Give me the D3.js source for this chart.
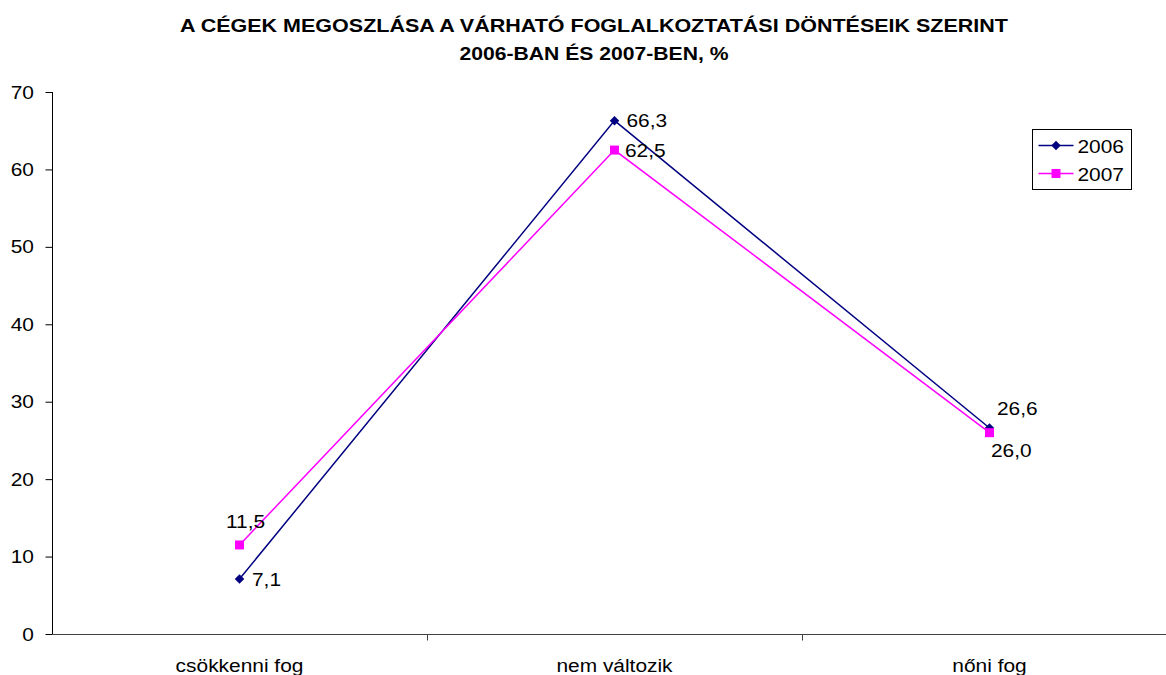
<!DOCTYPE html>
<html>
<head>
<meta charset="utf-8">
<script src="https://cdn.jsdelivr.net/npm/d3@7"></script>
<style>
body { margin: 0; background: #fff; }
text { font-family: "Liberation Sans", Arial, sans-serif; fill: #000; }
</style>
</head>
<body>
<script>
var width = 1166, height = 675;

var categories = ["csökkenni fog", "nem változik", "nőni fog"];
var years = ["2006", "2007"];
var values2006 = [7.1, 66.3, 26.6];
var values2007 = [11.5, 62.5, 26.0];
var yTicks = [0, 10, 20, 30, 40, 50, 60, 70];
var titleLines = ["A CÉGEK MEGOSZLÁSA A VÁRHATÓ FOGLALKOZTATÁSI DÖNTÉSEIK SZERINT", "2006-BAN ÉS 2007-BEN, %"];

var colors = { "2006": "#000080", "2007": "#ff00ff" };

var plotLeft = 52, plotTop = 92, plotBottom = 634, bandW = 375;
// the original picture is a bit stretched sideways
var stretch = " scale(1.1,1)";
var fontSize = "19px";

var x = d3.scaleBand()
    .domain(categories)
    .range([plotLeft, plotLeft + bandW * 3])
    .padding(0);

var y = d3.scaleLinear()
    .domain([0, 70])
    .range([plotBottom, plotTop]);

function cx(i){ return x(categories[i]) + x.bandwidth() / 2; }

var svg = d3.select("body").append("svg")
    .attr("width", width)
    .attr("height", height)
    .style("display", "block");

// title
var titleWidths = [828, 269];
svg.append("g").selectAll("text")
    .data(titleLines)
    .enter()
    .append("text")
    .attr("x", 594)
    .attr("y", function(d, i){ return 32 + i * 28; })
    .attr("text-anchor", "middle")
    .attr("textLength", function(d, i){ return titleWidths[i]; })
    .attr("lengthAdjust", "spacingAndGlyphs")
    .style("font-weight", "bold")
    .style("font-size", "18.5px")
    .text(function(d){ return d; });

// y axis
var yAxis = svg.append("g")
    .attr("transform", "translate(" + (plotLeft + 0.5) + ",0)")
    .call(d3.axisLeft(y).tickValues(yTicks).tickSize(7).tickFormat(d3.format("d")));
yAxis.select(".domain").attr("stroke", "#000").attr("d", "M0," + plotTop + "V" + plotBottom);
yAxis.selectAll(".tick line").attr("stroke", "#000");
yAxis.selectAll("text")
    .attr("x", 0)
    .attr("transform", "translate(-18.5,0)" + stretch)
    .attr("font-family", null)
    .attr("font-size", null)
    .style("font-size", fontSize);

// x axis
var xAxis = svg.append("g")
    .attr("transform", "translate(0," + (plotBottom + 0.5) + ")");
xAxis.append("line")
    .attr("x1", plotLeft).attr("x2", width)
    .attr("stroke", "#404040");
xAxis.selectAll(".sep")
    .data(d3.range(1, 3))
    .enter()
    .append("line")
    .attr("x1", function(d){ return Math.round(plotLeft + bandW * d) + 0.5; })
    .attr("x2", function(d){ return Math.round(plotLeft + bandW * d) + 0.5; })
    .attr("y1", 0).attr("y2", 6)
    .attr("stroke", "#404040");
xAxis.selectAll(".cat")
    .data(categories)
    .enter()
    .append("text")
    .attr("transform", function(d, i){ return "translate(" + cx(i) + ",37)" + stretch; })
    .attr("text-anchor", "middle")
    .style("font-size", fontSize)
    .text(function(d){ return d; });

var series = [
    { name: "2006", values: values2006 },
    { name: "2007", values: values2007 }
];

var line = d3.line()
    .x(function(d, i){ return cx(i); })
    .y(function(d){ return y(d); });

var diamond = d3.symbol().type(d3.symbolSquare).size(45);
var square = d3.symbol().type(d3.symbolSquare).size(81);
function markerTransform(name){ return name == "2006" ? " rotate(45)" : ""; }

series.forEach(function(s){
    var g = svg.append("g");
    g.append("path")
        .attr("d", line(s.values))
        .attr("fill", "none")
        .attr("stroke", colors[s.name])
        .attr("stroke-width", 1.5);
    g.selectAll("path.m")
        .data(s.values)
        .enter()
        .append("path")
        .attr("class", "m")
        .attr("transform", function(d, i){
            return "translate(" + cx(i) + "," + y(d) + ")" + markerTransform(s.name);
        })
        .attr("d", s.name == "2006" ? diamond() : square())
        .attr("fill", colors[s.name]);
});

// data labels: offsets of the text start from each point
var labelOffsets = {
    "2006": [[12.5, 7], [12, 6], [7.5, -13]],
    "2007": [[-13.5, -17], [10.5, 7], [1.5, 24]]
};
series.forEach(function(s){
    svg.append("g").selectAll("text")
        .data(s.values)
        .enter()
        .append("text")
        .attr("transform", function(d, i){
            var o = labelOffsets[s.name][i];
            return "translate(" + (cx(i) + o[0]) + "," + (y(d) + o[1]) + ")" + stretch;
        })
        .style("font-size", fontSize)
        .text(function(d){ return d.toFixed(1).replace(".", ","); });
});

// legend
var legend = svg.append("g").attr("transform", "translate(1032.5,129.5)");
legend.append("rect")
    .attr("width", 99).attr("height", 60)
    .attr("fill", "#fff").attr("stroke", "#000");
var items = legend.selectAll("g.item")
    .data(years)
    .enter()
    .append("g")
    .attr("class", "item")
    .attr("transform", function(d, i){ return "translate(0," + (16 + i * 28) + ")"; });
items.append("line")
    .attr("x1", 6).attr("x2", 41)
    .attr("stroke", function(d){ return colors[d]; })
    .attr("stroke-width", 1.5);
items.append("path")
    .attr("transform", function(d){ return "translate(23.5,0)" + markerTransform(d); })
    .attr("d", function(d){ return d == "2006" ? diamond() : square(); })
    .attr("fill", function(d){ return colors[d]; });
items.append("text")
    .attr("transform", "translate(45,7)" + stretch)
    .style("font-size", fontSize)
    .text(function(d){ return d; });
</script>
</body>
</html>
